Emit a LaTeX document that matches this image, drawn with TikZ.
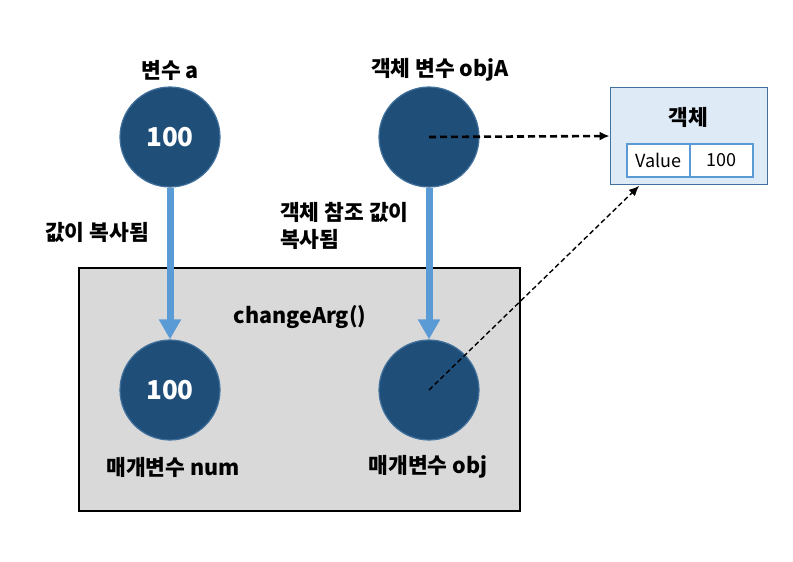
\documentclass[tikz,border=0pt]{standalone}
\usepackage{fontspec}
\setmainfont{Noto Sans CJK KR}
\usetikzlibrary{arrows.meta,calc}
\definecolor{varblue}{HTML}{1F4E79}
\definecolor{varedge}{HTML}{41719C}
\definecolor{copyblue}{HTML}{5B9BD5}
\definecolor{objfill}{HTML}{DEEBF7}
\definecolor{boxgray}{HTML}{D9D9D9}
\tikzset{var/.style={circle,draw=varedge,fill=varblue,line width=1.2pt,minimum size=100pt,inner sep=0pt,text=white,font=\fontsize{26}{26}\selectfont\bfseries},
 lbl/.style={font=\fontsize{21.5}{27}\selectfont\bfseries,inner sep=0pt},
 copyarr/.style={copyblue,line width=7pt,-{Triangle[width=21pt,length=20pt]}},
 ref/.style={dashed,-{Latex[length=10pt,width=9pt]}}}
\begin{document}
\begin{tikzpicture}[x=1pt,y=-1pt]
\useasboundingbox (0,0) rectangle (793,562);
\node (func) at (299.5,389.5) [draw=black,line width=1.6pt,fill=boxgray,minimum width=441pt,minimum height=243pt] {};
\node (obj) at (689,136) [draw=varedge,line width=1.8pt,fill=objfill,minimum width=157pt,minimum height=97pt] {};
\node (vname) at (658.5,160.5) [draw=copyblue,line width=1.5pt,fill=white,minimum width=63pt,minimum height=33pt,font=\fontsize{18}{18}\selectfont] {Value};
\node (vval) at (721.5,160.5) [draw=copyblue,line width=1.5pt,fill=white,minimum width=63pt,minimum height=33pt,font=\fontsize{18}{18}\selectfont] {\hfill 100};
\node (objt) at (688,117) [lbl] {객체};
\node (a) at (170,137) [var] {100};
\node (objA) at (429,137) [var] {};
\node (num) at (170,390) [var] {100};
\node (objp) at (429,390) [var] {};
\node at (170,70) [lbl] {변수 a};
\node at (440,70) [lbl] {객체 변수 objA};
\node at (97,232) [lbl] {값이 복사됨};
\node at (280,226) [lbl,align=left,anchor=west] {객체 참조 값이\\복사됨};
\node (fname) at (300,317) [lbl] {changeArg()};
\node at (173,467) [lbl] {매개변수 num};
\node at (428,467) [lbl] {매개변수 obj};
\coordinate (tip) at (639,186);
\draw[copyarr] (a) -- (num);
\draw[copyarr] (objA) -- (objp);
\draw[ref,line width=2.6pt,dash pattern=on 7pt off 4pt] (objA.center) -- (obj.west);
\draw[ref,line width=1.4pt,dash pattern=on 5pt off 3pt] (objp.center) -- (tip);
\end{tikzpicture}
\end{document}
